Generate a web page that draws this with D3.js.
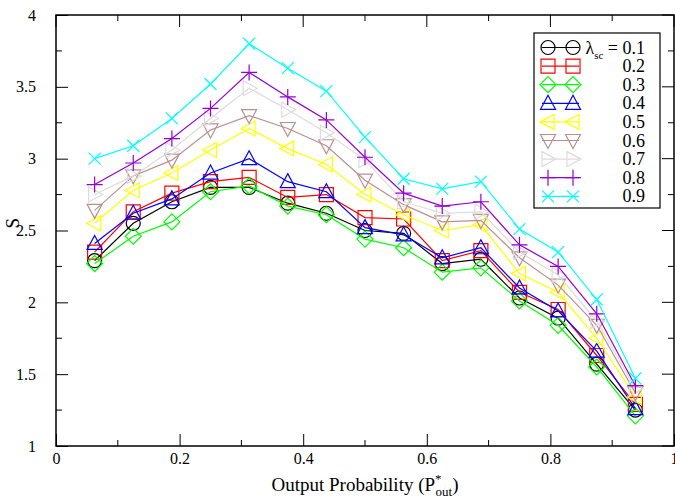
<!DOCTYPE html>
<html>
<head>
<meta charset="utf-8">
<script src="https://cdn.jsdelivr.net/npm/d3@7"></script>
<style>
  body { margin: 0; background: #fff; }
</style>
</head>
<body>
<div id="chart"></div>
<script>
// S vs output probability, one series per lambda_sc

// Data variables
var xValues = [0.0625, 0.125, 0.1875, 0.25, 0.3125, 0.375, 0.4375, 0.5, 0.5625, 0.625, 0.6875, 0.75, 0.8125, 0.875, 0.9375];
var lambdas = ['0.1', '0.2', '0.3', '0.4', '0.5', '0.6', '0.7', '0.8', '0.9'];

var s01 = [2.29, 2.55, 2.70, 2.80, 2.80, 2.69, 2.62, 2.50, 2.48, 2.27, 2.30, 2.03, 1.89, 1.57, 1.25];
var s02 = [2.35, 2.63, 2.76, 2.84, 2.87, 2.73, 2.75, 2.59, 2.58, 2.29, 2.36, 2.07, 1.95, 1.63, 1.29];
var s03 = [2.27, 2.46, 2.56, 2.77, 2.81, 2.67, 2.61, 2.44, 2.38, 2.21, 2.24, 2.01, 1.84, 1.55, 1.21];
var s04 = [2.41, 2.62, 2.72, 2.90, 3.00, 2.84, 2.77, 2.52, 2.47, 2.31, 2.38, 2.10, 1.94, 1.66, 1.26];
var s05 = [2.55, 2.78, 2.90, 3.06, 3.21, 3.07, 2.96, 2.75, 2.61, 2.50, 2.54, 2.20, 2.07, 1.75, 1.34];
var s06 = [2.64, 2.88, 2.99, 3.20, 3.30, 3.21, 3.09, 2.85, 2.68, 2.56, 2.57, 2.31, 2.12, 1.84, 1.37];
var s07 = [2.75, 2.88, 3.06, 3.28, 3.49, 3.34, 3.18, 2.99, 2.70, 2.62, 2.63, 2.35, 2.19, 1.87, 1.40];
var s08 = [2.82, 2.97, 3.14, 3.35, 3.60, 3.43, 3.27, 3.01, 2.76, 2.67, 2.70, 2.40, 2.25, 1.92, 1.42];
var s09 = [3.00, 3.09, 3.28, 3.52, 3.80, 3.63, 3.47, 3.15, 2.86, 2.79, 2.84, 2.51, 2.35, 2.02, 1.47];

var allSeries = [s01, s02, s03, s04, s05, s06, s07, s08, s09];
var colors = ['#000000', '#ff0000', '#00ff00', '#0000ff', '#ffff00', '#bc8f8f', '#dcdcdc', '#9400d3', '#00ffff'];
var markers = ['circle', 'square', 'diamond', 'tri-up', 'tri-left', 'tri-down', 'tri-right', 'plus', 'cross'];

var xTicks = [0, 0.2, 0.4, 0.6, 0.8, 1];
var yTicks = [1, 1.5, 2, 2.5, 3, 3.5, 4];

//
// chart
//

var w = 675;
var h = 500;
var margin = {left: 56, right: 1, top: 15, bottom: 54};
var serif = '"Liberation Serif", "Times New Roman", "DejaVu Serif", serif';

var xScale = d3.scaleLinear().domain([0, 1]).range([margin.left, w - margin.right]);
var yScale = d3.scaleLinear().domain([1, 4]).range([h - margin.bottom, margin.top]);

var svg = d3.select('#chart')
    .append('svg')
    .attr('width', w)
    .attr('height', h)
    .attr('font-family', serif);

// marker path around (0,0)
function markerPath(type) {
    var r = 7;
    var p = d3.path();
    if (type == 'circle') {
        p.arc(0, 0, r, 0, 2 * Math.PI);
    } else if (type == 'square') {
        p.rect(-7, -7, 14, 14);
    } else if (type == 'diamond') {
        p.moveTo(0, -8); p.lineTo(8, 0); p.lineTo(0, 8); p.lineTo(-8, 0); p.closePath();
    } else if (type == 'tri-up') {
        p.moveTo(0, -8); p.lineTo(7.5, 6); p.lineTo(-7.5, 6); p.closePath();
    } else if (type == 'tri-down') {
        p.moveTo(0, 8); p.lineTo(7.5, -6); p.lineTo(-7.5, -6); p.closePath();
    } else if (type == 'tri-left') {
        p.moveTo(-8, 0); p.lineTo(6, -7.5); p.lineTo(6, 7.5); p.closePath();
    } else if (type == 'tri-right') {
        p.moveTo(8, 0); p.lineTo(-6, -7.5); p.lineTo(-6, 7.5); p.closePath();
    } else if (type == 'plus') {
        p.moveTo(-8, 0); p.lineTo(8, 0); p.moveTo(0, -8); p.lineTo(0, 8);
    } else if (type == 'cross') {
        p.moveTo(-6, -6); p.lineTo(6, 6); p.moveTo(-6, 6); p.lineTo(6, -6);
    }
    return p.toString();
}

var line = d3.line()
    .x(function(d, i) { return xScale(xValues[i]); })
    .y(function(d) { return yScale(d); });

var plot = svg.append('g');

allSeries.forEach(function(series, s) {
    var g = plot.append('g');
    g.append('path')
        .attr('d', line(series))
        .attr('fill', 'none')
        .attr('stroke', colors[s])
        .attr('stroke-width', 1.2);
    g.selectAll('path.mk')
        .data(series)
        .enter()
        .append('path')
        .attr('class', 'mk')
        .attr('d', markerPath(markers[s]))
        .attr('transform', function(d, i) { return 'translate(' + xScale(xValues[i]) + ',' + yScale(d) + ')'; })
        .attr('fill', 'none')
        .attr('stroke', colors[s])
        .attr('stroke-width', 1.2);
});

// frame and ticks (ticks point inward on all sides)
var x0 = xScale(0), x1 = xScale(1), y0 = yScale(1), y1 = yScale(4);

svg.append('rect')
    .attr('x', x0).attr('y', y1)
    .attr('width', x1 - x0).attr('height', y0 - y1)
    .attr('fill', 'none').attr('stroke', '#000').attr('stroke-width', 1.5);

var xMinor = d3.range(0.1, 1, 0.2);
var yMinor = d3.range(1.25, 4, 0.5);

var bottomAxis = d3.axisBottom(xScale).tickValues(xTicks).tickSize(-12).tickPadding(16)
    .tickFormat(function(d) { return d === 0 ? '0' : d === 1 ? '1' : d3.format('.1f')(d); });
var gx = svg.append('g').attr('transform', 'translate(0,' + y0 + ')').call(bottomAxis);
gx.attr('font-family', serif);
gx.select('.domain').remove();
gx.selectAll('text').attr('font-size', 16).attr('dy', '0.15em');

var leftAxis = d3.axisLeft(yScale).tickValues(yTicks).tickSize(-12).tickPadding(20)
    .tickFormat(function(d) { return String(d); });
var gy = svg.append('g').attr('transform', 'translate(' + x0 + ',0)').call(leftAxis);
gy.attr('font-family', serif);
gy.select('.domain').remove();
gy.selectAll('text').attr('font-size', 16);

// other tick marks
function tickLines(vals, fn) {
    svg.append('g').selectAll('line').data(vals).enter().append('line')
        .each(fn).attr('stroke', '#000').attr('stroke-width', 1);
}
tickLines(xMinor, function(d) { d3.select(this).attr('x1', xScale(d)).attr('x2', xScale(d)).attr('y1', y0).attr('y2', y0 - 6); });
tickLines(xTicks, function(d) { d3.select(this).attr('x1', xScale(d)).attr('x2', xScale(d)).attr('y1', y1).attr('y2', y1 + 12); });
tickLines(xMinor, function(d) { d3.select(this).attr('x1', xScale(d)).attr('x2', xScale(d)).attr('y1', y1).attr('y2', y1 + 6); });
tickLines(yMinor, function(d) { d3.select(this).attr('x1', x0).attr('x2', x0 + 6).attr('y1', yScale(d)).attr('y2', yScale(d)); });
tickLines(yTicks, function(d) { d3.select(this).attr('x1', x1).attr('x2', x1 - 12).attr('y1', yScale(d)).attr('y2', yScale(d)); });
tickLines(yMinor, function(d) { d3.select(this).attr('x1', x1).attr('x2', x1 - 6).attr('y1', yScale(d)).attr('y2', yScale(d)); });

// axis titles
var xt = svg.append('text')
    .attr('x', 365).attr('y', 491)
    .attr('text-anchor', 'middle')
    .attr('font-size', 19);
xt.append('tspan').text('Output Probability (P');
xt.append('tspan').attr('font-size', 13).attr('dy', -8).text('*');
xt.append('tspan').attr('font-size', 13).attr('dx', -6).attr('dy', 13).text('out');
xt.append('tspan').attr('dy', -5).text(')');

svg.append('text')
    .attr('transform', 'translate(19,' + yScale(2.55) + ') rotate(-90)')
    .attr('text-anchor', 'middle')
    .attr('font-size', 19)
    .text('S');

// legend
var leg = svg.append('g');
leg.append('rect')
    .attr('x', 534).attr('y', 33)
    .attr('width', 126).attr('height', 175)
    .attr('fill', '#fff').attr('stroke', '#000').attr('stroke-width', 1.2);

lambdas.forEach(function(lab, s) {
    var ly = 47.5 + s * 18.6;
    leg.append('line')
        .attr('x1', 542).attr('x2', 579).attr('y1', ly).attr('y2', ly)
        .attr('stroke', colors[s]).attr('stroke-width', 1.2);
    [548, 573].forEach(function(mx) {
        leg.append('path')
            .attr('d', markerPath(markers[s]))
            .attr('transform', 'translate(' + mx + ',' + ly + ')')
            .attr('fill', 'none').attr('stroke', colors[s]).attr('stroke-width', 1.2);
    });
    var t = leg.append('text')
        .attr('x', 645).attr('y', ly + 6)
        .attr('text-anchor', 'end')
        .attr('font-size', 18);
    if (s == 0) {
        t.append('tspan').text('λ');
        t.append('tspan').attr('font-size', 11).attr('dy', 5).text('sc');
        t.append('tspan').attr('dy', -5).text(' = ' + lab);
    } else {
        t.text(lab);
    }
});
// end of chart
</script>
</body>
</html>
